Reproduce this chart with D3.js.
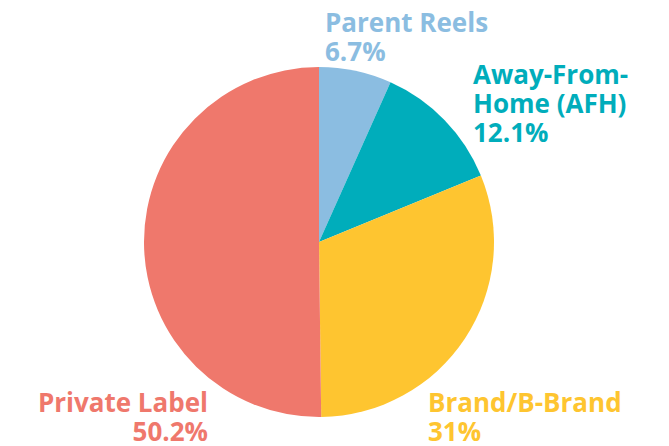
<!DOCTYPE html>
<html>
<head>
<meta charset="utf-8">
<script src="https://cdn.jsdelivr.net/npm/d3@7"></script>
<style>
	html, body { margin: 0; padding: 0; background: #fff; }
	svg text { font-family: "Open Sans", Lato, sans-serif; font-weight: 700; }
</style>
</head>
<body>
<div id="chart"></div>
<script>
(function () {
	// data
	var categories = ['Parent Reels', 'Away-From-Home (AFH)', 'Brand/B-Brand', 'Private Label'];
	var values = [6.7, 12.1, 31, 50.2];
	var colors = ['#8bbde1', '#00adbb', '#fec530', '#ef786c'];
	var labelLines = [['Parent Reels'], ['Away-From-', 'Home (AFH)'], ['Brand/B-Brand'], ['Private Label']];

	// layout
	var width = 669, height = 446;
	var cx = 319, cy = 242, radius = 175;
	var lineHeight = 29;
	var labelPos = [
		{x: 325, y: 32, anchor: 'start'},
		{x: 473, y: 84, anchor: 'start'},
		{x: 428, y: 412, anchor: 'start'},
		{x: 208, y: 412, anchor: 'end'}
	];

	var svg = d3.select('#chart').append('svg')
		.attr('width', width).attr('height', height);

	var pie = d3.pie().sort(null).value(d => d.value);
	var arc = d3.arc().innerRadius(0).outerRadius(radius);

	var data = categories.map((c, i) => ({
		name: c, value: values[i], color: colors[i], lines: labelLines[i], pos: labelPos[i]
	}));

	var g = svg.append('g').attr('transform', 'translate(' + [cx, cy] + ')');
	g.selectAll('path')
		.data(pie(data))
		.enter().append('path')
		.attr('d', arc)
		.attr('fill', d => d.data.color);

	// labels, one text per line
	var labels = svg.selectAll('g.label')
		.data(data)
		.enter().append('g')
		.attr('class', 'label');

	labels.each(function (d) {
		var lab = d3.select(this);
		d.lines.concat([d.value + '%']).forEach((line, i) => {
			lab.append('text')
				.attr('x', d.pos.x)
				.attr('y', d.pos.y + i * lineHeight)
				.attr('text-anchor', d.pos.anchor)
				.attr('fill', d.color)
				.style('font-size', '26px')
				.text(line);
		});
	});
})();
</script>
</body>
</html>
